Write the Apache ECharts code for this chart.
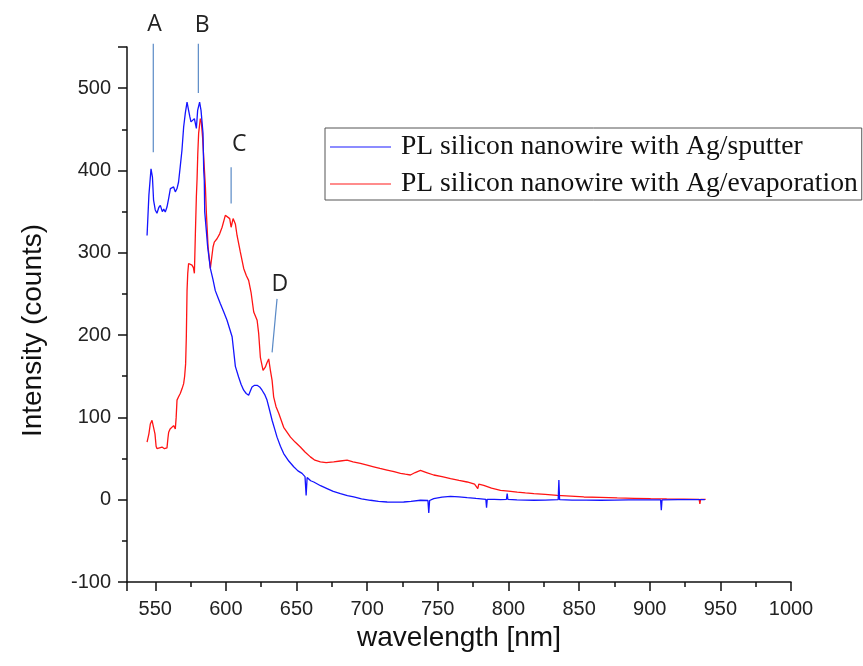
<!DOCTYPE html>
<html>
<head>
<meta charset="utf-8">
<script src="https://cdn.jsdelivr.net/npm/echarts@6/dist/echarts.min.js"></script>
<style>
  html, body { margin: 0; padding: 0; background: #fff; }
  #chart { width: 863px; height: 666px; }
</style>
</head>
<body>
<div id="chart"></div>
<script>
// PL spectrum, Ag deposited by sputtering
const sputterWavelength = [
  544.2, 545.5, 547.0, 548.0, 548.8, 550.0, 551.2, 551.7, 552.5, 553.6, 555.0, 556.0, 557.1, 558.3,
  559.5, 560.7, 561.9, 563.0, 564.2, 565.4, 566.5, 567.7, 568.9, 570.1, 571.3, 572.5, 573.6, 574.5,
  575.3, 576.7, 577.7, 579.1, 580.0, 581.4, 582.4, 583.8, 584.3, 584.7, 585.0, 586.0, 587.1, 589.0,
  590.8, 592.5, 594.3, 596.1, 598.5, 600.8, 602.6, 604.4, 606.7, 609.0, 610.8, 612.6, 614.4, 616.1,
  617.3, 618.5, 620.3, 622.1, 623.9, 625.6, 627.4, 629.1, 630.9, 632.7, 634.5, 636.2, 638.6, 640.9,
  644.5, 648.0, 651.0, 653.9, 656.0, 656.8, 657.5, 660.0, 662.2, 667.0, 671.6, 676.0, 681.1, 686.0,
  690.5, 696.0, 702.3, 708.0, 714.1, 720.0, 725.9, 731.0, 737.7, 743.0, 743.6, 744.2, 747.1, 753.0,
  759.0, 765.0, 770.8, 777.0, 784.0, 784.5, 785.0, 790.0, 794.4, 798.6, 799.1, 799.6, 806.0, 812.0,
  818.0, 826.0, 835.2, 835.7, 836.2, 845.0, 855.0, 865.2, 875.0, 885.0, 895.0, 907.7, 908.2, 908.7,
  920.0, 930.0, 936.0, 939.0
];
const sputterCounts = [
  321, 370, 402, 392, 364, 352, 348, 347.6, 355, 357.6, 350, 353, 349.5, 355.6,
  366, 378, 376, 380, 374, 378, 386, 405, 424.5, 452.8, 470, 483, 473, 465,
  459, 457, 463, 451, 473, 483, 473, 445, 400, 388, 350, 330, 307, 281,
  268, 254, 246, 238, 228, 218, 208, 198, 162, 149, 140, 133, 129, 127,
  132, 137, 139, 139, 137, 133, 128, 121, 109, 96.5, 86, 76, 65, 56,
  47, 40, 35, 32, 28, 5, 27, 23, 21.5, 17, 13.5, 10, 7.4, 5,
  3.3, 1, -0.7, -2, -2.8, -3, -2.8, -2, -0.7, -1, -16, -1, 1.3, 3,
  4.1, 3.5, 2.5, 1.5, 0.5, -9.6, 0.5, 0.3, 0.1, 0.5, 7.4, 0.3, -0.3, -0.5,
  -0.7, -0.5, 0, 24, 0, -0.5, -0.5, -0.7, -0.5, -0.3, -0.2, -0.3, -12.9, -0.3,
  0, 0, 0.1, 0
];

// PL spectrum, Ag deposited by evaporation
const evaporationWavelength = [
  544.2, 545.5, 546.5, 547.7, 548.8, 549.8, 550.6, 551.2, 552.5, 554.8, 556.5, 558.3, 559.0, 559.5,
  560.5, 561.9, 563.0, 564.2, 564.8, 565.4, 566.5, 567.7, 569.0, 570.1, 570.8, 571.5, 572.0, 572.5,
  573.0, 573.6, 574.8, 576.0, 577.0, 577.7, 578.4, 579.1, 579.6, 580.1, 580.7, 581.9, 582.6, 583.5,
  584.5, 585.5, 586.2, 587.4, 589.0, 590.2, 590.9, 591.8, 593.7, 595.6, 597.3, 599.6, 600.8, 602.7,
  603.7, 605.1, 606.7, 607.9, 610.2, 612.6, 614.5, 616.1, 617.8, 619.7, 622.1, 623.2, 624.4, 626.3,
  627.9, 629.0, 630.3, 631.5, 632.7, 633.8, 635.5, 637.4, 640.9, 645.7, 649.0, 652.7, 656.0, 659.8,
  663.0, 666.9, 671.0, 676.3, 681.0, 685.8, 690.0, 695.2, 700.0, 704.6, 709.0, 714.1, 719.0, 723.6,
  727.0, 730.6, 734.0, 737.7, 742.0, 747.1, 753.0, 759.0, 765.0, 770.8, 776.0, 778.3, 779.0, 782.5,
  788.0, 794.4, 800.0, 806.2, 812.0, 818.0, 826.0, 834.5, 844.0, 853.4, 865.0, 877.0, 889.0, 900.6,
  912.0, 924.0, 935.0, 935.5, 936.0, 939.6
];
const evaporationCounts = [
  70, 80, 92, 96.5, 97, 80, 65, 62, 64, 64, 62, 63, 75, 82,
  86, 88, 90, 86, 100, 121, 125, 129, 135, 141, 150, 165, 198, 254,
  275, 287, 288, 285, 282, 275, 323, 368, 390, 420, 445, 463, 459, 440,
  410, 380, 348, 307, 281, 283, 307, 313, 317, 323, 331, 345.5, 347.6, 341.5,
  331, 341.5, 335, 321, 301, 281, 272, 266.5, 252, 228, 218, 202, 173, 157,
  161, 166, 171, 157, 145, 125, 113, 105, 88, 76, 70, 64, 58, 52,
  48, 46, 45, 46, 47, 48, 46, 44, 42, 40, 38, 36, 34, 32,
  31, 30, 33, 35.5, 33, 30, 28, 25.6, 23.5, 21.5, 19, 13.5, 19, 17.5,
  14, 11.4, 10.5, 9.3, 8.3, 7.4, 6.5, 5.3, 4.3, 3.3, 2.7, 2.1, 1.7, 1.3,
  1, 0.8, 0.5, -5, 0.5, 0.5
];

const seriesNames = [
  'PL silicon nanowire with Ag/sputter',
  'PL silicon nanowire with Ag/evaporation'
];

// Peak labels A–D: leader line ends and letter anchor, in (wavelength, counts)
const peakLetters = ['A', 'B', 'C', 'D'];
const peakLineFrom = [[548.6, 554], [580.5, 554], [603.7, 404], [636.2, 244]];
const peakLineTo = [[548.6, 422], [580.5, 494], [603.7, 360], [632.7, 179]];
const peakTextAt = [[549.4, 578], [583.3, 576], [609.5, 432], [638.2, 261]];

const zip = (xs, ys) => xs.map((x, i) => [x, ys[i]]);

const axisFont = 'Liberation Sans, Arial, sans-serif';

const chart = echarts.init(document.getElementById('chart'), null, { renderer: 'canvas' });

const option = {
  backgroundColor: '#ffffff',
  animation: false,
  grid: { left: 127, right: 72, top: 47, bottom: 84 },
  legend: {
    orient: 'vertical',
    left: 325,
    top: 128,
    padding: [5, 4, 2, 5],
    icon: 'rect',
    itemWidth: 61,
    itemHeight: 2,
    itemGap: 9,
    borderColor: '#555',
    borderWidth: 1,
    textStyle: {
      fontFamily: 'Liberation Serif, Times New Roman, serif',
      fontSize: 27.6,
      color: '#111',
      padding: [0, 0, 0, 5]
    },
    data: [
      { name: seriesNames[0], itemStyle: { color: '#8c8cff' } },
      { name: seriesNames[1], itemStyle: { color: '#ff8c8c' } }
    ]
  },
  xAxis: {
    type: 'value',
    min: 530,
    max: 1000,
    splitNumber: 9,
    name: 'wavelength [nm]',
    nameLocation: 'middle',
    nameGap: 41,
    nameTextStyle: { fontFamily: axisFont, fontSize: 28, color: '#111' },
    axisLine: { show: true, onZero: false, lineStyle: { color: '#111', width: 1.5 } },
    axisTick: { show: true, length: 9, lineStyle: { color: '#111', width: 1.5 } },
    minorTick: { show: true, splitNumber: 2, length: 5, lineStyle: { color: '#111', width: 1.5 } },
    axisLabel: {
      showMinLabel: false,
      margin: 17,
      fontFamily: axisFont,
      fontSize: 20,
      color: '#222',
      formatter: (v) => String(v)
    },
    splitLine: { show: false }
  },
  yAxis: {
    type: 'value',
    min: -100,
    max: 550,
    interval: 100,
    name: 'Intensity (counts)',
    nameLocation: 'middle',
    nameGap: 80,
    nameTextStyle: {
      fontFamily: axisFont,
      fontSize: 28,
      color: '#111',
      padding: [0, 32, 0, 0]
    },
    axisLine: { show: true, onZero: false, lineStyle: { color: '#111', width: 1.5 } },
    axisTick: { show: true, length: 9, lineStyle: { color: '#111', width: 1.5 } },
    minorTick: { show: true, splitNumber: 2, length: 5, lineStyle: { color: '#111', width: 1.5 } },
    axisLabel: {
      showMaxLabel: false,
      margin: 16,
      fontFamily: axisFont,
      fontSize: 20,
      color: '#222',
      formatter: (v) => String(v)
    },
    splitLine: { show: false }
  },
  series: [
    {
      name: seriesNames[0],
      type: 'line',
      data: zip(sputterWavelength, sputterCounts),
      symbol: 'none',
      lineStyle: { color: '#1414ff', width: 1.3 },
      itemStyle: { color: '#1414ff' },
      z: 3
    },
    {
      name: seriesNames[1],
      type: 'line',
      data: zip(evaporationWavelength, evaporationCounts),
      symbol: 'none',
      lineStyle: { color: '#ff1414', width: 1.3 },
      itemStyle: { color: '#ff1414' },
      z: 2
    }
  ]
};

chart.setOption(option);

// Peak annotations: leader lines and letters placed through the axis scales
const toPx = (pt) => chart.convertToPixel({ gridIndex: 0 }, pt);
const graphics = [];
peakLetters.forEach((letter, i) => {
  const a = toPx(peakLineFrom[i]);
  const b = toPx(peakLineTo[i]);
  const t = toPx(peakTextAt[i]);
  graphics.push({
    type: 'line',
    shape: { x1: a[0], y1: a[1], x2: b[0], y2: b[1] },
    style: { stroke: '#5a8ac6', lineWidth: 1.2 },
    z: 10
  });
  graphics.push({
    type: 'text',
    x: t[0],
    y: t[1],
    style: {
      text: letter,
      fontFamily: 'Open Sans, Noto Sans, sans-serif',
      fontSize: 23,
      fill: '#222',
      align: 'center',
      verticalAlign: 'middle'
    },
    z: 10
  });
});
chart.setOption({ graphic: graphics });
</script>
</body>
</html>
